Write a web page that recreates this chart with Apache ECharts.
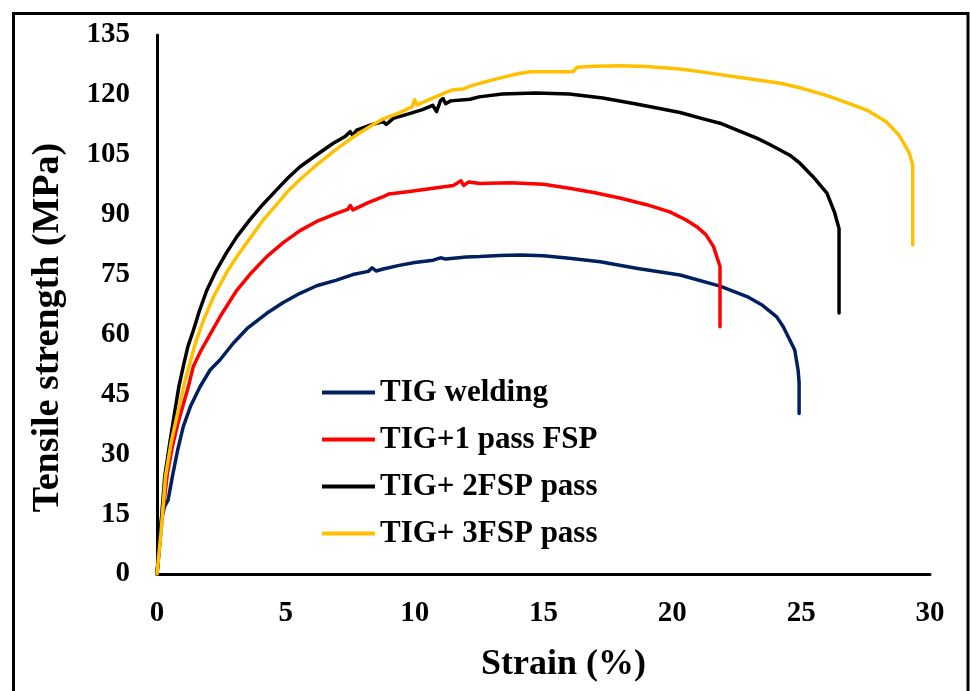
<!DOCTYPE html>
<html>
<head>
<meta charset="utf-8">
<script src="https://cdn.jsdelivr.net/npm/echarts@6/dist/echarts.min.js"></script>
<style>
  html, body { margin: 0; padding: 0; background: #fff; }
  #chart { width: 970px; height: 691px; }
</style>
</head>
<body>
<div id="chart"></div>
<script>
// ---- Data ----
var seriesNames = ['TIG welding', 'TIG+1 pass FSP', 'TIG+ 2FSP pass', 'TIG+ 3FSP pass'];

var tigStrain = [0, 0.1, 0.18, 0.3, 0.43, 0.6, 0.8, 1.02, 1.3, 1.67, 2.06, 2.44, 2.96, 3.5, 4.26, 4.9, 5.55, 6.2, 6.97, 7.6, 8.2, 8.35, 8.5, 8.78, 9.4, 10.0, 10.72, 11.0, 11.2, 12.0, 12.53, 13.3, 14.1, 15.0, 16.0, 17.2, 18.6, 20.3, 21.85, 22.9, 23.5, 24.05, 24.3, 24.56, 24.75, 24.88, 24.92, 24.92];
var tigStress = [0, 8, 14, 17, 18.5, 24.5, 31, 36.9, 42, 46.9, 51.1, 53.6, 57.8, 61.5, 65.3, 68, 70.3, 72.2, 73.6, 75.0, 75.8, 76.7, 75.9, 76.4, 77.3, 78.0, 78.6, 79.2, 78.9, 79.4, 79.5, 79.8, 79.9, 79.7, 79.1, 78.2, 76.6, 74.9, 72.1, 69.5, 67.3, 64.4, 62.0, 58.6, 56.1, 51.1, 48, 40.2];

var fsp1Strain = [0, 0.2, 0.4, 0.6, 0.8, 1.0, 1.2, 1.41, 1.67, 2.06, 2.5, 3.09, 3.6, 4.26, 4.9, 5.55, 6.2, 6.97, 7.4, 7.5, 7.6, 8.2, 8.78, 9.0, 9.8, 10.72, 11.5, 11.8, 11.9, 12.1, 12.53, 13.7, 15.0, 16.0, 17.0, 18.0, 19.0, 19.9, 20.5, 20.95, 21.3, 21.6, 21.85, 21.85];
var fsp1Stress = [0, 14, 25, 32, 37.5, 42, 46.5, 52, 55.5, 60, 65, 71, 75, 79.5, 83, 86, 88.3, 90.3, 91.3, 92.3, 91.2, 93, 94.5, 95.2, 95.8, 96.6, 97.3, 98.5, 97.3, 98.2, 97.8, 98.0, 97.6, 96.6, 95.5, 94.1, 92.5, 90.7, 88.8, 87.0, 85.0, 82.0, 77.0, 61.9];

var fsp2Strain = [0, 0.15, 0.3, 0.5, 0.7, 0.85, 1.02, 1.2, 1.41, 1.65, 1.93, 2.3, 2.7, 3.1, 3.6, 4.1, 4.64, 5.1, 5.55, 6.2, 6.84, 7.3, 7.5, 7.6, 7.75, 8.3, 8.6, 8.78, 8.9, 9.17, 9.8, 10.3, 10.7, 10.85, 11.0, 11.1, 11.2, 11.4, 12.15, 12.5, 13.4, 14.7, 16.0, 17.3, 18.6, 20.3, 21.2, 21.85, 23.3, 23.8, 24.56, 24.95, 25.46, 26.0, 26.3, 26.47, 26.47];
var fsp2Stress = [0, 12, 24.4, 33, 41.1, 47, 52, 57, 61, 66, 71, 76, 80.5, 84.5, 88.7, 92.5, 96.2, 99.3, 102, 105, 107.9, 109.6, 110.8, 109.8, 111.2, 112.5, 113.0, 113.3, 112.6, 114.1, 115.3, 116.3, 117.4, 115.8, 118.5, 119.1, 117.8, 118.5, 118.9, 119.5, 120.2, 120.5, 120.2, 119.2, 117.7, 115.6, 114.0, 112.9, 109.1, 107.5, 104.9, 102.9, 99.5, 95.4, 90.5, 86.5, 65.4];

var fsp3Strain = [0, 0.15, 0.33, 0.55, 0.83, 1.05, 1.28, 1.5, 1.8, 2.2, 2.7, 3.1, 3.6, 4.1, 4.64, 5.1, 5.55, 6.2, 6.84, 7.3, 7.75, 8.3, 8.78, 9.4, 9.9, 10.0, 10.1, 10.5, 11.1, 11.5, 11.9, 12.15, 12.53, 13.3, 14.0, 14.5, 16.14, 16.3, 17.0, 18.0, 19.0, 20.3, 21.2, 22.5, 24.2, 24.95, 26.0, 26.5, 27.55, 28.3, 28.8, 29.2, 29.33, 29.33];
var fsp3Stress = [0, 10, 24.4, 33, 41.1, 47.5, 53, 58, 63.5, 69.5, 75.5, 79.5, 84, 88.5, 92.5, 96, 98.8, 102.5, 105.8, 108, 110, 112.2, 114, 115.5, 117, 118.8, 117.5, 118.6, 120.3, 121.3, 121.5, 122.2, 122.9, 124.2, 125.3, 125.8, 125.8, 126.9, 127.2, 127.3, 127.1, 126.5, 125.7, 124.5, 122.9, 121.8, 119.8, 118.7, 116.2, 113.3, 109.9, 105.4, 102.4, 82.4];

var xTicks = { min: 0, max: 30, interval: 5 };
var yTicks = { min: 0, max: 135, interval: 15 };

var colors = ['#002060', '#FF0000', '#000000', '#FFC000'];

function zip(a, b) { return a.map(function (v, i) { return [v, b[i]]; }); }
var allData = [zip(tigStrain, tigStress), zip(fsp1Strain, fsp1Stress), zip(fsp2Strain, fsp2Stress), zip(fsp3Strain, fsp3Stress)];

var FONT = "'Liberation Serif', 'Times New Roman', serif";

var chart = echarts.init(document.getElementById('chart'), null, { renderer: 'canvas' });
chart.setOption({
  animation: false,
  backgroundColor: '#ffffff',
  grid: { left: 157, right: 40, top: 35, bottom: 117, containLabel: false },
  xAxis: {
    type: 'value', min: xTicks.min, max: xTicks.max, interval: xTicks.interval,
    name: 'Strain (%)', nameLocation: 'middle', nameGap: 73,
    nameTextStyle: { fontFamily: FONT, fontWeight: 'bold', fontSize: 36, color: '#000', padding: [0, 0, 0, 40] },
    axisLine: { show: true, onZero: false, lineStyle: { color: '#000', width: 3 } },
    axisTick: { show: false },
    splitLine: { show: false },
    axisLabel: { fontFamily: FONT, fontWeight: 'bold', fontSize: 29, color: '#000', margin: 25 }
  },
  yAxis: {
    type: 'value', min: yTicks.min, max: yTicks.max, interval: yTicks.interval,
    name: 'Tensile strength (MPa)', nameLocation: 'middle', nameGap: 90,
    nameTextStyle: { fontFamily: FONT, fontWeight: 'bold', fontSize: 38, color: '#000', padding: [0, 46, 0, 0] },
    axisLine: { show: true, onZero: false, lineStyle: { color: '#000', width: 3 } },
    axisTick: { show: false },
    splitLine: { show: false },
    axisLabel: { fontFamily: FONT, fontWeight: 'bold', fontSize: 29, color: '#000', margin: 27 }
  },
  legend: {
    orient: 'vertical', left: 317, top: 372,
    itemWidth: 53, itemHeight: 4, itemGap: 16, icon: 'rect',
    textStyle: { fontFamily: FONT, fontWeight: 'bold', fontSize: 31, color: '#000', lineHeight: 30 },
    data: seriesNames
  },
  graphic: [{
    type: 'rect', silent: true, z: 100,
    shape: { x: 13.5, y: 13.5, width: 954.5, height: 700 },
    style: { fill: 'none', stroke: '#000', lineWidth: 3 }
  }],
  series: seriesNames.map(function (n, i) {
    return {
      name: n, type: 'line', data: allData[i],
      showSymbol: false, symbol: 'none', smooth: false,
      color: colors[i],
      lineStyle: { color: colors[i], width: 3.5, join: 'round', cap: 'round' }
    };
  })
});
</script>
</body>
</html>
